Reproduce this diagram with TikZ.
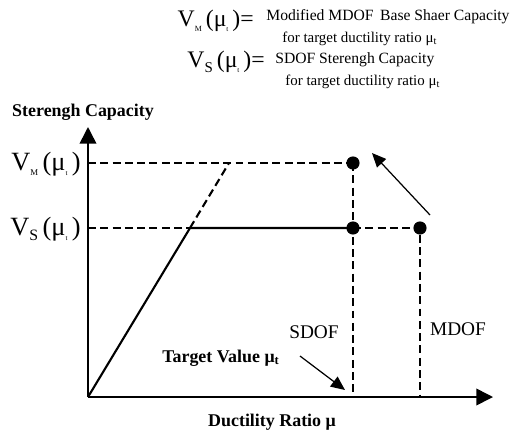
\documentclass[tikz,border=0pt]{standalone}
\usepackage{fontspec}
\setmainfont{Liberation Serif}
\usetikzlibrary{arrows.meta}

\tikzset{
  axis/.style={line width=0.9pt, -{Triangle[length=9.5pt,width=9.5pt]}},
  dashline/.style={line width=1.2pt, dash pattern=on 4.5pt off 2.5pt},
  solidline/.style={line width=1.2pt},
  dot/.style={circle, fill, inner sep=0pt, minimum size=7.5pt},
  pointer/.style={line width=0.7pt, -{Triangle[length=8pt,width=7pt]}},
  biglab/.style={font=\fontsize{15}{15}\selectfont, inner sep=0pt},
  leglab/.style={font=\fontsize{13.5}{13.5}\selectfont, inner sep=0pt},
  legtxt/.style={font=\fontsize{8.9}{11}\selectfont, inner sep=0pt},
  fortxt/.style={font=\fontsize{8.5}{10}\selectfont, inner sep=0pt},
  boldtxt/.style={font=\fontsize{10.2}{12}\selectfont\bfseries, inner sep=0pt},
  casetxt/.style={font=\fontsize{11}{11}\selectfont, inner sep=0pt},
}
% V with subscript, mu with subscript t
\newcommand{\capsub}[2]{V\raisebox{-0.45ex}{\fontsize{#2}{#2}\selectfont #1}\,(μ\raisebox{-0.45ex}{\fontsize{4}{4}\selectfont t}\,)}

\begin{document}
\begin{tikzpicture}[x=0.02cm, y=-0.02cm]
    \useasboundingbox (0,0) rectangle (510,430);
    % legend
    \node[leglab, anchor=east] (eqM) at (254,21) {\capsub{M}{4.5}=};
    \node[legtxt, anchor=west] (txtM) at (266,17) {Modified MDOF\, Base Shaer Capacity};
    \node[fortxt, anchor=west] (forM) at (282,39) {for target ductility ratio μ\textsubscript{t}};
    \node[leglab, anchor=east] (eqS) at (265,62) {\capsub{S}{8.5}=};
    \node[legtxt, anchor=west] (txtS) at (275,60) {SDOF Sterengh Capacity};
    \node[fortxt, anchor=west] (forS) at (285,82) {for target ductility ratio μ\textsubscript{t}};
    % axes
    \coordinate (O) at (88,397);
    \coordinate (ytop) at (88,127);
    \coordinate (xend) at (493,397);
    \draw[axis] (O) -- (ytop);
    \draw[axis] (O) -- (xend);
    \node[boldtxt] (ylab) at (83,112) {Sterengh Capacity};
    \node[boldtxt] (xlab) at (272,422) {Ductility Ratio μ};
    % capacity levels
    \coordinate (vm) at (88,163);
    \coordinate (vs) at (88,228);
    \node[biglab, anchor=east] (vmlab) at (81,164) {\capsub{M}{5}};
    \node[biglab, anchor=east] (vslab) at (81,229) {\capsub{S}{9}};
    \coordinate (yield) at (190,228);
    \coordinate (ext) at (229,163);
    \node[dot] (pM) at (353,163) {};
    \node[dot] (pS) at (353,228) {};
    \node[dot] (pD) at (420,228) {};
    \coordinate (footS) at (353,397);
    \coordinate (footD) at (420,397);
    % curves
    \draw[solidline] (O) -- (yield) -- (pS.center);
    \draw[dashline] (yield) -- (ext);
    \draw[dashline] (vm) -- (pM.center);
    \draw[dashline] (vs) -- (yield);
    \draw[dashline] (pM.center) -- (pS.center) -- (footS);
    \draw[dashline] (pS.center) -- (pD.center) -- (footD);
    % labels and pointers
    \node[casetxt] (sdof) at (314,332) {SDOF};
    \node[casetxt] (mdof) at (458,329) {MDOF};
    \node[boldtxt] (target) at (221,358) {Target Value μ\textsubscript{t}};
    \coordinate (tA) at (300,356);
    \coordinate (tB) at (345,390);
    \draw[pointer] (tA) -- (tB);
    \coordinate (uA) at (430,215);
    \coordinate (uB) at (372,153);
    \draw[pointer] (uA) -- (uB);
\end{tikzpicture}
\end{document}
